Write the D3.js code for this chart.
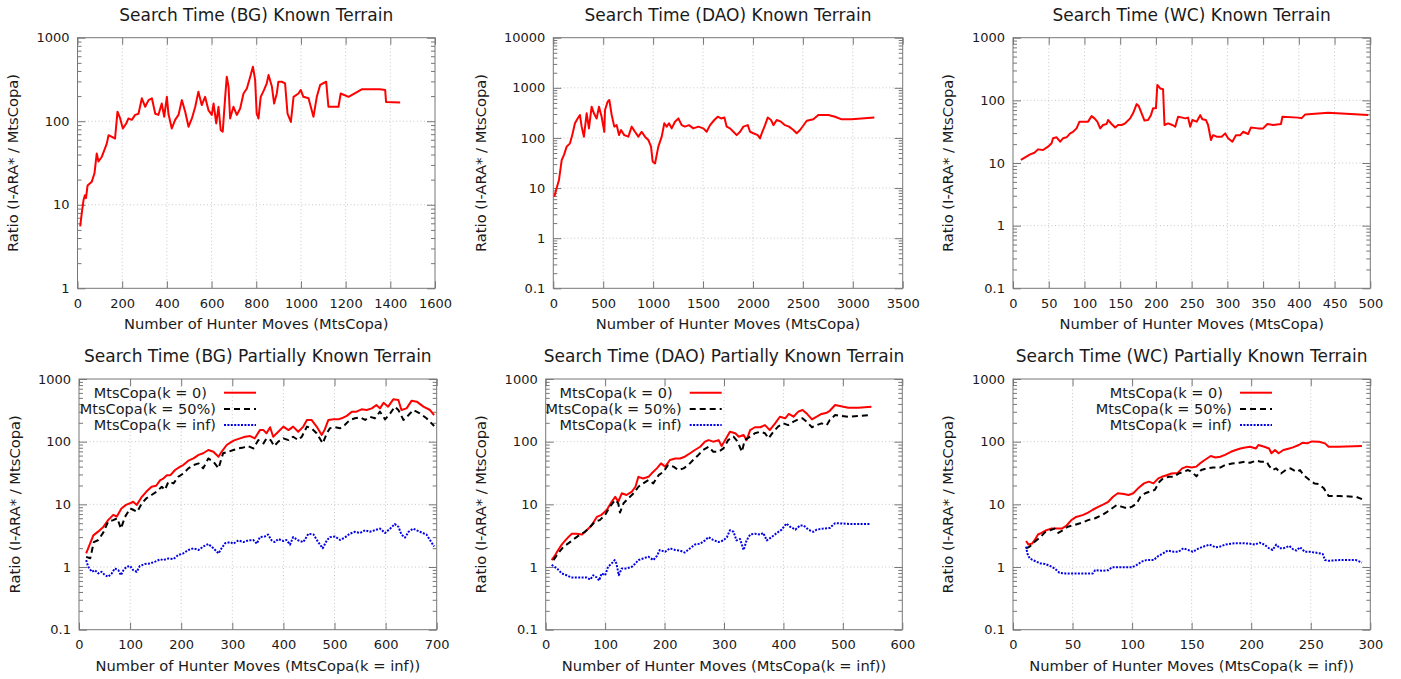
<!DOCTYPE html>
<html>
<head>
<meta charset="utf-8">
<script src="https://cdn.jsdelivr.net/npm/d3@7"></script>
<style>
  body { margin: 0; background: #fff; }
  svg text { font-family: "DejaVu Sans", sans-serif; fill: #1a1a1a; }
</style>
</head>
<body>
<svg id="chart" width="1401" height="679"></svg>
<script>
// values: [moves, ratio]
const bgKnown = [[12,5.5],[19,7.9],[27,11.4],[33,13],[38,12],[45,17],[64,18.9],[76,23.8],[86,41],[94,33],[109,37.6],[131,54],[139,68],[154,65],[168,62],[179,130],[191,108],[203,82],[218,94],[228,108],[243,104],[258,119],[273,123],[288,188],[303,149],[318,179],[333,188],[348,123],[362,119],[377,163],[388,113],[400,196],[407,123],[422,82],[437,104],[452,119],[467,179],[482,130],[497,86],[512,108],[527,149],[541,226],[556,156],[571,196],[586,136],[601,119],[609,163],[621,94],[631,149],[641,78],[650,75],[661,196],[668,341],[676,260],[683,108],[698,149],[713,119],[728,142],[743,215],[758,247],[773,341],[785,450],[795,312],[802,123],[810,108],[820,196],[835,237],[847,284],[855,357],[870,260],[880,163],[892,215],[899,297],[914,297],[929,284],[940,123],[955,98],[967,196],[989,215],[999,237],[1011,196],[1034,188],[1056,113],[1071,196],[1086,272],[1113,297],[1123,149],[1168,149],[1178,215],[1213,196],[1272,241],[1354,241],[1377,237],[1381,170],[1444,168]];

const daoKnown = [[10,6.7],[33,9.9],[57,14.5],[84,36],[107,46],[134,67],[167,78],[190,114],[217,196],[244,245],[267,287],[284,168],[307,106],[334,310],[357,155],[384,420],[407,310],[434,245],[458,420],[484,265],[511,133],[518,360],[544,528],[561,571],[585,287],[611,168],[635,180],[658,114],[678,144],[711,114],[752,106],[785,168],[818,133],[852,106],[885,133],[918,106],[952,91],[979,67],[995,34],[1019,31],[1052,67],[1086,106],[1112,196],[1136,168],[1159,196],[1186,155],[1219,211],[1253,245],[1286,180],[1319,168],[1359,180],[1403,155],[1453,168],[1503,155],[1536,133],[1570,180],[1613,228],[1647,265],[1680,245],[1714,255],[1737,168],[1770,155],[1804,133],[1837,114],[1871,133],[1904,168],[1948,180],[1971,133],[2004,124],[2048,114],[2071,98],[2088,124],[2121,180],[2148,255],[2181,228],[2205,180],[2238,228],[2281,211],[2321,180],[2361,168],[2405,144],[2438,124],[2472,144],[2539,220],[2605,235],[2655,287],[2756,287],[2822,265],[2889,235],[2989,235],[3216,255]];

const wcKnown = [[11,11.2],[17,12.3],[24,13.7],[30,14.6],[35,16.5],[42,16.1],[49,18.2],[54,20.6],[56,24.8],[61,25.7],[66,21.9],[70,24.8],[75,25.7],[80,29.7],[84,31.5],[89,35.7],[93,45.7],[98,45.7],[105,45.7],[110,56],[114,51.6],[118,45.7],[122,35.7],[126,40.4],[131,41.9],[133,48.5],[138,41.9],[143,36.9],[147,40.4],[152,40.4],[157,43],[164,51.6],[168,62],[173,87],[176,81],[180,62],[184,47.5],[189,48.5],[193,58],[196,74.5],[200,74.5],[202,176],[206,155],[210,150],[212,40.4],[217,43],[223,40.4],[227,38],[231,54.8],[237,53],[241,51.6],[245,53],[248,38],[251,48.5],[257,45.7],[262,58],[265,50],[270,48.5],[273,40.4],[277,23.3],[280,27.8],[285,26.3],[292,26.3],[297,29.7],[301,24.8],[307,21.9],[312,27.8],[318,27.8],[322,31.5],[329,29],[333,37],[343,35.7],[350,35.7],[356,41.9],[364,40.4],[375,41.9],[377,54.8],[399,53],[404,52],[409,59.6],[441,63.5],[497,58.6]];

const bgK0 = [[14,1.65],[22,2.4],[28,3.2],[38,3.7],[48,4.4],[57,5.6],[67,6.8],[74,6.4],[83,8.6],[92,9.8],[100,10.4],[106,11],[113,9.8],[123,13.2],[132,16],[142,19.1],[151,19.8],[159,24.4],[165,25.8],[172,29.2],[179,29.2],[188,35.3],[198,40],[204,42.4],[214,49.8],[224,54],[234,61.5],[243,65.4],[253,73.6],[263,69],[273,57.6],[279,69],[289,88.5],[299,100],[305,106],[315,113],[325,120],[335,123],[344,113],[354,153],[361,153],[367,136],[374,170],[380,120],[390,144],[400,174],[410,153],[419,174],[429,144],[439,174],[446,222],[455,222],[465,174],[475,128],[481,157],[488,222],[498,227],[507,227],[514,236],[524,258],[534,301],[543,301],[553,328],[563,320],[573,340],[582,385],[589,340],[596,419],[605,362],[615,474],[625,462],[631,320],[641,340],[651,451],[661,435],[674,362],[687,320],[695,266]];
const bgK50 = [[14,1.45],[22,1.38],[29,2.5],[38,2.7],[48,3.6],[57,5.3],[67,5.6],[75,6.0],[82,4.1],[90,6.3],[100,8.6],[106,8.2],[114,7.6],[123,10.4],[132,12.5],[142,14.1],[152,16],[162,19.1],[168,17],[175,23],[185,21.6],[194,27.5],[204,31],[214,37.5],[224,42.4],[234,45],[243,37.5],[253,54],[263,48],[273,37.5],[282,65.4],[292,69],[302,73.6],[312,78],[322,81],[331,85],[341,78],[351,106],[361,94],[367,113],[375,106],[382,85],[390,100],[400,113],[410,106],[419,120],[429,106],[436,120],[446,174],[455,164],[465,136],[477,94],[485,136],[491,164],[501,170],[511,164],[520,184],[530,222],[540,236],[550,244],[560,222],[569,250],[579,236],[589,301],[599,227],[609,283],[618,362],[625,320],[635,222],[645,266],[654,320],[667,283],[680,236],[695,178]];
const bgKinf = [[14,1.29],[18,1.01],[25,0.84],[31,0.89],[38,0.79],[44,0.84],[51,0.74],[57,0.7],[64,0.79],[70,0.95],[77,0.89],[82,0.74],[87,0.89],[93,1.01],[100,1.04],[106,0.89],[113,0.84],[119,1.04],[129,1.12],[139,1.14],[149,1.22],[159,1.33],[165,1.29],[175,1.37],[185,1.34],[194,1.55],[204,1.65],[214,1.87],[224,1.99],[234,1.87],[243,2.12],[253,2.33],[263,1.99],[273,1.65],[279,1.99],[286,2.4],[296,2.5],[302,2.36],[312,2.66],[322,2.5],[331,2.66],[341,2.7],[348,2.36],[354,3.0],[364,3.07],[370,3.3],[377,2.66],[383,2.5],[390,2.8],[400,2.6],[406,2.7],[413,2.28],[419,3.0],[429,2.66],[439,2.5],[449,3.4],[459,3.3],[468,2.5],[477,1.99],[485,2.66],[491,3.0],[501,3.07],[511,2.7],[520,2.95],[530,3.4],[540,3.65],[550,3.5],[560,3.87],[569,3.65],[579,3.87],[589,4.1],[599,3.5],[609,4.1],[618,4.85],[625,4.4],[631,3.3],[638,2.95],[645,3.65],[654,4.1],[667,3.65],[680,3.3],[695,2.12]];

const daoK0 = [[10,1.29],[16,1.55],[21,1.87],[27,2.28],[33,2.66],[38,3.0],[44,3.4],[52,3.4],[61,3.3],[69,3.87],[77,4.6],[86,6.3],[94,6.8],[103,8.2],[111,11],[117,13.2],[122,11],[128,15],[136,14.1],[145,16],[151,19.1],[156,27.5],[164,25.8],[173,27.5],[178,31],[187,37.5],[194,45],[201,40],[209,51],[218,54],[226,54],[234,57.6],[243,65.4],[251,73.6],[260,83],[268,100],[274,106],[282,100],[291,106],[296,85],[302,106],[310,144],[319,136],[325,120],[333,128],[338,106],[344,153],[352,170],[361,170],[369,184],[377,153],[386,196],[394,250],[403,236],[409,277],[417,250],[425,301],[432,320],[439,283],[448,227],[456,250],[464,277],[473,290],[478,311],[487,385],[495,371],[509,349],[526,349],[548,362]];
const daoK50 = [[13,1.29],[21,1.65],[30,2.12],[35,2.28],[43,2.58],[49,2.87],[58,3.3],[66,3.65],[75,4.4],[83,5.3],[91,5.6],[100,6.8],[108,9.2],[117,11.8],[122,10.4],[125,7.4],[131,10.4],[139,12.5],[148,15],[156,19.1],[164,21.6],[173,24.4],[181,21.6],[190,29.2],[198,33],[206,42.4],[215,40],[223,35.3],[232,37.5],[240,42.4],[248,51],[257,61.5],[265,73.6],[274,83],[282,69],[291,69],[299,78],[307,106],[316,120],[323,100],[330,69],[335,106],[344,120],[352,136],[361,144],[369,136],[375,113],[383,144],[391,174],[400,196],[408,184],[417,209],[425,227],[432,236],[439,209],[448,170],[456,184],[464,196],[473,184],[478,222],[487,266],[495,258],[509,250],[526,258],[548,266]];
const daoKinf = [[10,1.08],[19,0.95],[27,0.79],[35,0.74],[43,0.68],[52,0.68],[61,0.68],[69,0.68],[75,0.63],[80,0.74],[86,0.68],[90,0.61],[94,0.79],[100,0.74],[105,1.01],[111,1.14],[116,1.29],[119,1.14],[123,0.74],[128,0.95],[136,0.95],[145,1.01],[150,1.12],[156,1.29],[164,1.37],[173,1.46],[181,1.29],[187,1.5],[192,1.87],[201,1.75],[209,1.99],[218,1.87],[226,1.83],[234,1.7],[243,1.99],[251,2.28],[260,2.36],[268,2.66],[274,3.0],[282,2.7],[291,2.5],[299,2.66],[305,3.0],[310,3.87],[316,3.65],[321,2.66],[327,2.8],[333,1.87],[338,2.66],[344,3.3],[352,3.4],[361,3.3],[366,3.5],[372,2.66],[380,3.0],[389,3.5],[397,3.95],[405,4.95],[411,4.4],[420,3.95],[428,4.6],[434,4.6],[442,3.95],[450,3.65],[456,3.95],[467,4.1],[478,4.2],[487,5.0],[498,4.95],[515,4.85],[546,4.85]];

const wcK0 = [[11,2.6],[13,2.28],[16,2.36],[18,2.66],[21,3.3],[24,3.5],[28,3.87],[32,4.1],[37,4.1],[41,4.1],[45,4.6],[49,5.6],[53,6.3],[59,6.8],[63,7.4],[67,8.2],[72,9.2],[76,10],[80,11],[84,13.2],[88,15],[93,14.6],[97,14.1],[101,15],[105,18],[110,21.6],[114,23],[118,21.6],[122,26],[125,27.5],[129,29.2],[133,31],[138,31.5],[142,37.5],[146,40],[150,38.7],[154,40],[157,45],[161,51],[166,59],[170,56],[174,57.6],[178,61.5],[183,69],[187,73.6],[191,78],[195,81],[199,83],[204,78],[206,88.5],[211,83],[215,78],[217,65.4],[220,73.6],[223,65.4],[227,73.6],[232,78],[235,81],[240,88.5],[243,96],[247,94],[251,101],[257,100],[262,94],[265,83],[273,83],[293,85]];
const wcK50 = [[11,1.99],[14,2.12],[18,2.5],[23,3.0],[27,3.6],[31,3.87],[35,4.1],[38,3.5],[42,3.87],[46,4.4],[52,4.7],[58,5.1],[63,5.6],[69,6.0],[75,6.8],[79,7.6],[83,8.6],[87,9.7],[91,9.2],[96,8.6],[100,9.2],[104,10.4],[107,13.2],[111,15],[115,16],[119,17],[123,23],[126,26],[131,27.5],[135,27.5],[139,31],[143,33],[147,35.3],[150,33],[154,28],[158,35.3],[163,37.5],[168,38.7],[174,38.7],[178,42.4],[184,45],[190,46],[195,48],[199,46],[204,49.8],[208,48],[213,48],[215,41],[218,35.3],[221,37.5],[225,31],[229,35.3],[233,37.5],[238,33],[241,35.3],[244,29.2],[249,24.4],[253,21.6],[257,21],[261,18],[265,13.6],[274,13.6],[288,13.2],[293,12.1]];
const wcKinf = [[11,2.12],[12,1.65],[14,1.37],[18,1.26],[23,1.14],[27,1.12],[31,1.04],[35,0.95],[39,0.81],[44,0.79],[52,0.79],[60,0.79],[67,0.79],[69,0.89],[75,0.87],[80,0.89],[83,0.99],[91,0.99],[100,0.99],[104,1.08],[108,1.22],[112,1.29],[118,1.29],[122,1.5],[126,1.65],[130,1.83],[135,1.75],[139,1.75],[143,1.99],[147,1.87],[151,1.75],[156,1.99],[160,2.12],[165,2.28],[170,2.07],[174,2.12],[178,2.28],[183,2.36],[187,2.4],[192,2.4],[199,2.36],[203,2.28],[207,2.45],[211,2.28],[215,1.99],[218,1.87],[221,2.28],[224,1.99],[227,1.99],[232,2.17],[235,1.93],[238,1.83],[241,2.07],[245,1.75],[249,1.75],[254,1.7],[260,1.62],[262,1.29],[265,1.26],[274,1.29],[288,1.29],[293,1.18]];

const seriesNames = ["MtsCopa(k = 0)", "MtsCopa(k = 50%)", "MtsCopa(k = inf)"];
const yTitle = "Ratio (I-ARA* / MtsCopa)";

const styles = [
  {color: "#ff0000", dash: null},
  {color: "#000000", dash: "6,4"},
  {color: "#0000e6", dash: "2,1.4"}
];

const panels = [
  {title: "Search Time (BG) Known Terrain", xLabel: "Number of Hunter Moves (MtsCopa)",
   l: 77.5, r: 435, t: 37.7, b: 288.3, yl: 18, xMax: 1600, xStep: 200, yMin: 1, yMax: 1000,
   series: [bgKnown]},
  {title: "Search Time (DAO) Known Terrain", xLabel: "Number of Hunter Moves (MtsCopa)",
   l: 553.3, r: 902.7, t: 37.7, b: 288.3, yl: 486, xMax: 3500, xStep: 500, yMin: 0.1, yMax: 10000,
   series: [daoKnown]},
  {title: "Search Time (WC) Known Terrain", xLabel: "Number of Hunter Moves (MtsCopa)",
   l: 1013, r: 1370.3, t: 37.7, b: 288.3, yl: 953, xMax: 500, xStep: 50, yMin: 0.1, yMax: 1000,
   series: [wcKnown]},
  {title: "Search Time (BG) Partially Known Terrain", xLabel: "Number of Hunter Moves (MtsCopa(k = inf))",
   l: 79, r: 436.7, t: 379, b: 629.7, yl: 19.5, xMax: 700, xStep: 100, yMin: 0.1, yMax: 1000,
   series: [bgK0, bgK50, bgKinf], key: 145},
  {title: "Search Time (DAO) Partially Known Terrain", xLabel: "Number of Hunter Moves (MtsCopa(k = inf))",
   l: 545.7, r: 902.3, t: 379, b: 629.7, yl: 486, xMax: 600, xStep: 100, yMin: 0.1, yMax: 1000,
   series: [daoK0, daoK50, daoKinf], key: 144},
  {title: "Search Time (WC) Partially Known Terrain", xLabel: "Number of Hunter Moves (MtsCopa(k = inf))",
   l: 1013, r: 1370.3, t: 379, b: 629.7, yl: 953, xMax: 300, xStep: 50, yMin: 0.1, yMax: 1000,
   series: [wcK0, wcK50, wcKinf], key: 227}
];

const svg = d3.select('#chart');
svg.append('rect').attr('width', 1401).attr('height', 679).attr('fill', '#fff');

function drawPanel (p, i) {
  let x = d3.scaleLinear().domain([0, p.xMax]).range([p.l, p.r]);
  let y = d3.scaleLog().domain([p.yMin, p.yMax]).range([p.b, p.t]);
  let xt = d3.range(0, p.xMax + 1, p.xStep);
  let yt = [], ym = [];
  for (let e = Math.round(Math.log10(p.yMin)); e <= Math.round(Math.log10(p.yMax)); e++) {
    yt.push(+Math.pow(10, e).toPrecision(3));
    if (e < Math.round(Math.log10(p.yMax))) {
      for (let k = 2; k < 10; k++) ym.push(k * Math.pow(10, e));
    }
  }

  let g = svg.append('g');

  // dotted grid
  g.append('g').selectAll('line').data(xt.slice(1, -1)).enter().append('line')
    .attr('x1', d => x(d)).attr('x2', d => x(d)).attr('y1', p.t).attr('y2', p.b)
    .attr('stroke', '#c8c8c8').attr('stroke-dasharray', '1,2.5');
  g.append('g').selectAll('line').data(yt.slice(1, -1)).enter().append('line')
    .attr('y1', d => y(d)).attr('y2', d => y(d)).attr('x1', p.l).attr('x2', p.r)
    .attr('stroke', '#c8c8c8').attr('stroke-dasharray', '1,2.5');

  // axes, ticks point inward
  let bottom = g.append('g').attr('transform', 'translate(0,' + p.b + ')')
    .call(d3.axisBottom(x).tickValues(xt).tickSize(-7).tickPadding(10).tickFormat(d => String(d)));
  let top = g.append('g').attr('transform', 'translate(0,' + p.t + ')')
    .call(d3.axisTop(x).tickValues(xt).tickSize(-7).tickFormat(''));
  let left = g.append('g').attr('transform', 'translate(' + p.l + ',0)')
    .call(d3.axisLeft(y).tickValues(yt).tickSize(-8).tickPadding(8).tickFormat(d => String(d)));
  let leftMinor = g.append('g').attr('transform', 'translate(' + p.l + ',0)')
    .call(d3.axisLeft(y).tickValues(ym).tickSize(-4).tickFormat(''));
  let right = g.append('g').attr('transform', 'translate(' + p.r + ',0)')
    .call(d3.axisRight(y).tickValues(yt).tickSize(-8).tickFormat(''));
  let rightMinor = g.append('g').attr('transform', 'translate(' + p.r + ',0)')
    .call(d3.axisRight(y).tickValues(ym).tickSize(-4).tickFormat(''));
  [bottom, top, left, leftMinor, right, rightMinor].forEach(a => {
    a.select('.domain').remove();
    a.selectAll('line').attr('stroke', '#777');
    a.selectAll('text').attr('font-size', 13).attr('font-family', 'DejaVu Sans').attr('fill', '#1a1a1a');
  });

  g.append('rect').attr('x', p.l).attr('y', p.t).attr('width', p.r - p.l).attr('height', p.b - p.t)
    .attr('fill', 'none').attr('stroke', '#777');

  // series
  let clipId = 'clip' + i;
  g.append('clipPath').attr('id', clipId).append('rect')
    .attr('x', p.l).attr('y', p.t).attr('width', p.r - p.l).attr('height', p.b - p.t);
  let line = d3.line().x(d => x(d[0])).y(d => y(d[1]));
  p.series.forEach((s, j) => {
    g.append('path').datum(s).attr('d', line)
      .attr('clip-path', 'url(#' + clipId + ')')
      .attr('fill', 'none').attr('stroke', styles[j].color).attr('stroke-width', 2)
      .attr('stroke-linejoin', 'round')
      .attr('stroke-dasharray', styles[j].dash);
  });

  // key
  if (p.key) {
    let pad = [17, 8, 8];
    seriesNames.forEach((n, j) => {
      let ky = p.t + 13.7 + j * 16.2;
      g.append('text').attr('x', p.l + p.key - pad[j]).attr('y', ky).attr('dy', '0.35em')
        .attr('text-anchor', 'end').attr('font-size', 14.5).text(n);
      g.append('line').attr('x1', p.l + p.key).attr('x2', p.l + p.key + 32)
        .attr('y1', ky).attr('y2', ky)
        .attr('stroke', styles[j].color).attr('stroke-width', 2)
        .attr('stroke-dasharray', styles[j].dash);
    });
  }

  // titles
  g.append('text').attr('x', (p.l + p.r) / 2).attr('y', p.t - 17)
    .attr('text-anchor', 'middle').attr('font-size', 17).text(p.title);
  g.append('text').attr('x', (p.l + p.r) / 2).attr('y', p.b + 41)
    .attr('text-anchor', 'middle').attr('font-size', 14.7).text(p.xLabel);
  g.append('text').attr('transform', 'translate(' + p.yl + ',' + ((p.t + p.b) / 2) + ') rotate(-90)')
    .attr('text-anchor', 'middle').attr('font-size', 14.7).text(yTitle);
}

panels.forEach(drawPanel);
</script>
</body>
</html>
